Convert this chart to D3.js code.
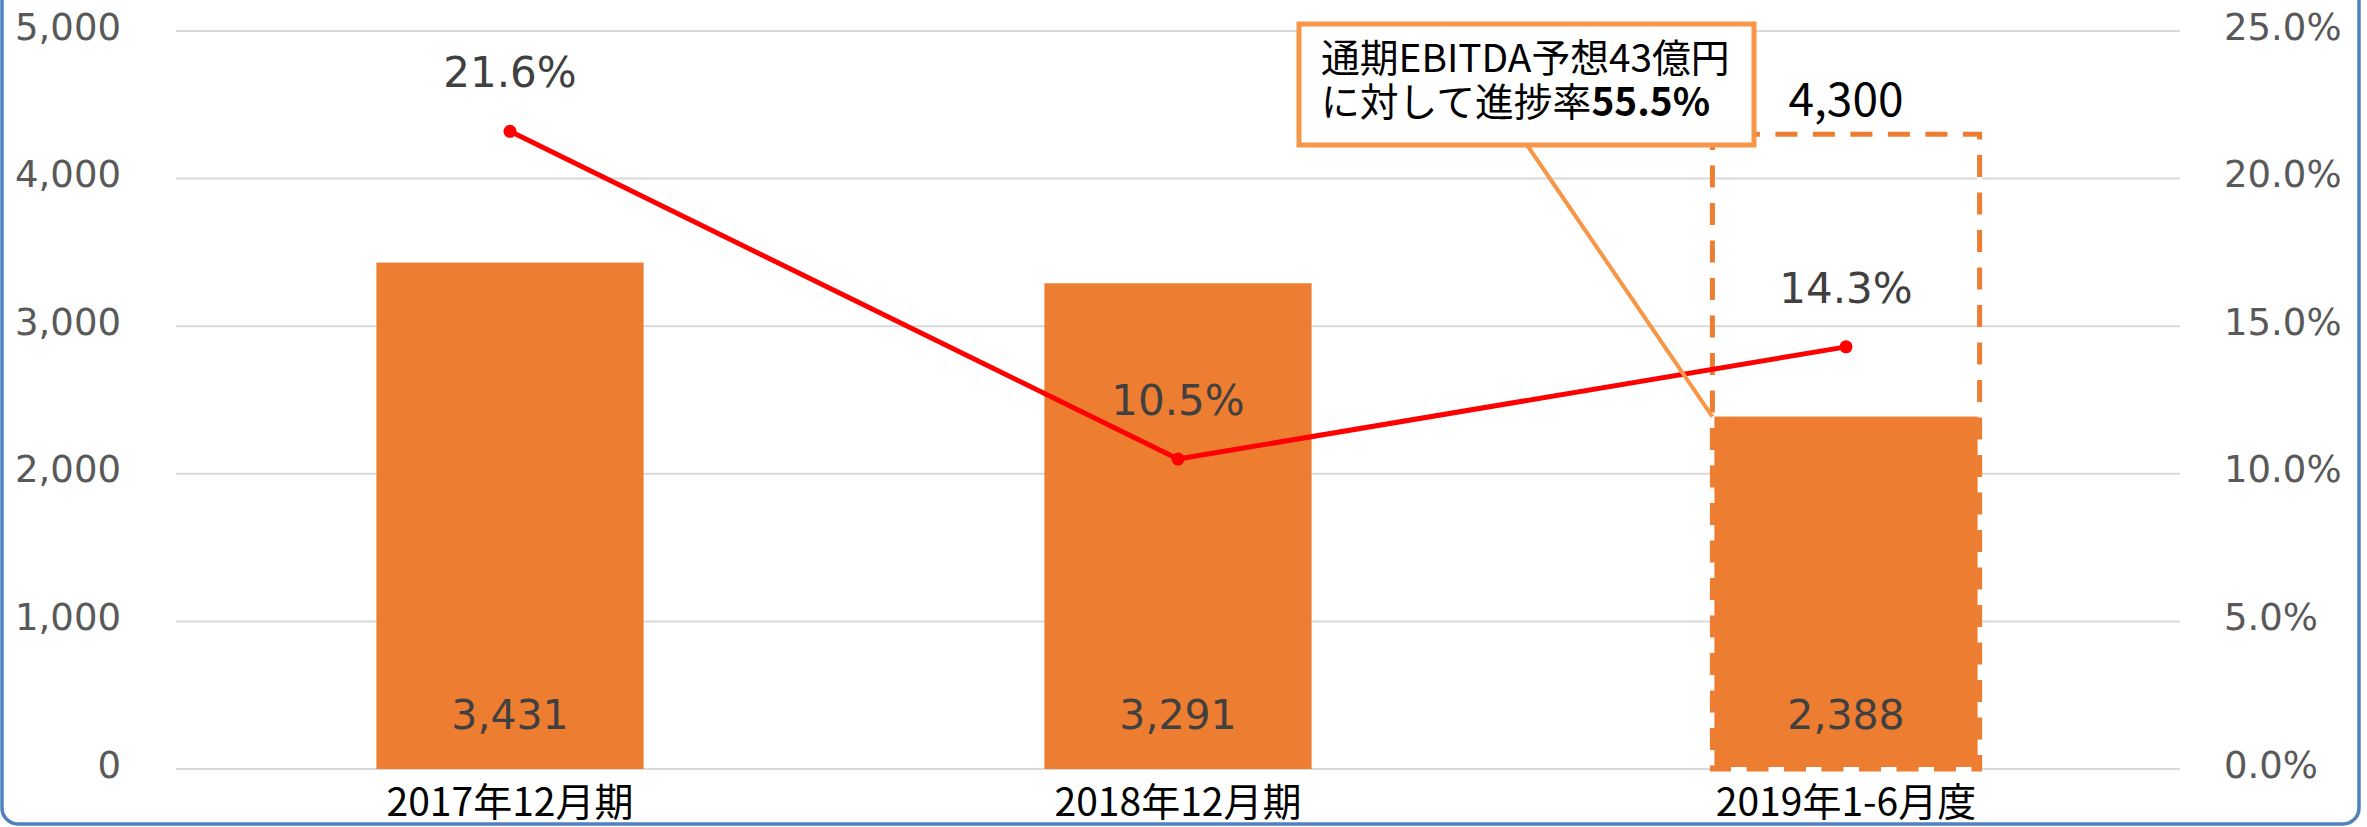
<!DOCTYPE html>
<html>
<head>
<meta charset="utf-8">
<script src="https://cdn.jsdelivr.net/npm/d3@7"></script>
<style>
  html, body { margin: 0; padding: 0; background: #ffffff; }
  svg { display: block; }
</style>
</head>
<body>
<svg id="chart" width="2367" height="827"></svg>
<script>
// ---------- data ----------
const categories = ["2017年12月期", "2018年12月期", "2019年1-6月度"];
const ebitda = [3431, 3291, 2388];            // bars
const margin = [0.216, 0.105, 0.143];         // EBITDA margin (line)
const forecastCategory = "2019年1-6月度";
const forecastValue = 4300;                   // full-year forecast (dashed box)
const leftTicks = [0, 1000, 2000, 3000, 4000, 5000];
const rightTicks = [0, 0.05, 0.10, 0.15, 0.20, 0.25];
const calloutLine1 = "通期EBITDA予想43億円";
const calloutLine2a = "に対して進捗率";
const calloutLine2b = "55.5%";

// ---------- layout ----------
const W = 2367, H = 827;
const plotL = 176, plotR = 2180, plotT = 31, plotB = 769;
const svg = d3.select("#chart");

const x = d3.scaleBand().domain(categories).range([plotL, plotR])
  .paddingInner(0.6).paddingOuter(0.3);
const yL = d3.scaleLinear().domain([0, 5000]).range([plotB, plotT]);
const yR = d3.scaleLinear().domain([0, 0.25]).range([plotB, plotT]);

const numFont = "'DejaVu Sans', Verdana, sans-serif";
const jpFont = "'Noto Sans CJK JP', 'Noto Sans', sans-serif";

// ---------- gridlines ----------
svg.append("g").selectAll("line").data(leftTicks).join("line")
  .attr("x1", plotL).attr("x2", plotR)
  .attr("y1", d => yL(d)).attr("y2", d => yL(d))
  .attr("stroke", "#d9d9d9").attr("stroke-width", 2);

// ---------- axes ----------
const axL = svg.append("g").attr("transform", `translate(${plotL},0)`)
  .call(d3.axisLeft(yL).tickValues(leftTicks).tickFormat(d3.format(",")).tickSize(0).tickPadding(55));
const axR = svg.append("g").attr("transform", `translate(${plotR},0)`)
  .call(d3.axisRight(yR).tickValues(rightTicks).tickFormat(d3.format(".1%")).tickSize(0).tickPadding(44));
[axL, axR].forEach(ax => {
  ax.select(".domain").remove();
  ax.selectAll("text").attr("font-family", numFont).attr("font-size", 37)
    .attr("fill", "#595959").attr("dy", "0.22em");
});

// ---------- bars ----------
svg.append("g").selectAll("rect").data(categories).join("rect")
  .attr("x", d => x(d)).attr("width", x.bandwidth())
  .attr("y", (d, i) => yL(ebitda[i]))
  .attr("height", (d, i) => yL(0) - yL(ebitda[i]))
  .attr("fill", "#ed7d31");

// ---------- forecast dashed box ----------
const fg = svg.append("g");
fg.append("rect")
  .attr("x", x(forecastCategory)).attr("width", x.bandwidth())
  .attr("y", yL(forecastValue)).attr("height", yL(0) - yL(forecastValue))
  .attr("fill", "none").attr("stroke", "#ffffff").attr("stroke-width", 4);
fg.append("rect")
  .attr("x", x(forecastCategory)).attr("width", x.bandwidth())
  .attr("y", yL(forecastValue)).attr("height", yL(0) - yL(forecastValue))
  .attr("fill", "none").attr("stroke", "#ed7d31").attr("stroke-width", 5)
  .attr("stroke-dasharray", "22,15.5").attr("stroke-dashoffset", 12);

// ---------- line ----------
const cx = d => x(d) + x.bandwidth() / 2;
const lineGen = d3.line().x(d => cx(d)).y((d, i) => yR(margin[i]));
svg.append("path").datum(categories)
  .attr("d", lineGen)
  .attr("fill", "none").attr("stroke", "#ff0000").attr("stroke-width", 5)
  .attr("stroke-linejoin", "round");
svg.append("g").selectAll("circle").data(categories).join("circle")
  .attr("cx", d => cx(d)).attr("cy", (d, i) => yR(margin[i])).attr("r", 6.5)
  .attr("fill", "#ff0000");

// ---------- labels ----------
svg.append("g").selectAll("text").data(categories).join("text")
  .attr("x", d => cx(d)).attr("y", (d, i) => yR(margin[i]) - 44)
  .attr("text-anchor", "middle").attr("font-family", numFont).attr("font-size", 42)
  .attr("fill", "#404040").text((d, i) => d3.format(".1%")(margin[i]));

svg.append("g").selectAll("text").data(categories).join("text")
  .attr("x", d => cx(d)).attr("y", yL(0) - 40)
  .attr("text-anchor", "middle").attr("font-family", numFont).attr("font-size", 41)
  .attr("fill", "#404040").text((d, i) => d3.format(",")(ebitda[i]));

svg.append("g").selectAll("text").data(categories).join("text")
  .attr("x", d => cx(d)).attr("y", 816)
  .attr("text-anchor", "middle").attr("font-family", jpFont).attr("font-size", 39)
  .attr("fill", "#000000").text(d => d);

svg.append("text")
  .attr("x", cx(forecastCategory)).attr("y", yL(forecastValue) - 18)
  .attr("text-anchor", "middle").attr("font-family", jpFont).attr("font-size", 46)
  .attr("fill", "#000000").text(d3.format(",")(forecastValue));

// ---------- callout ----------
const boxX = 1299, boxY = 24, boxW = 455, boxH = 121;
svg.append("line")
  .attr("x1", 1527).attr("y1", boxY + boxH)
  .attr("x2", x(forecastCategory)).attr("y2", yL(ebitda[2]))
  .attr("stroke", "#f79646").attr("stroke-width", 4);
svg.append("rect")
  .attr("x", boxX).attr("y", boxY).attr("width", boxW).attr("height", boxH)
  .attr("fill", "#ffffff").attr("stroke", "#f79646").attr("stroke-width", 5);
const ct = svg.append("text").attr("x", 1321).attr("y", 72)
  .attr("font-family", jpFont).attr("font-size", 38.8).attr("fill", "#000000");
ct.append("tspan").attr("x", 1321).attr("y", 72).text(calloutLine1);
ct.append("tspan").attr("x", 1321).attr("y", 116).text(calloutLine2a);
ct.append("tspan").attr("font-weight", "bold").text(calloutLine2b);

// ---------- frame ----------
svg.append("rect")
  .attr("x", 2).attr("y", -40).attr("width", 2357).attr("height", 864)
  .attr("rx", 16).attr("ry", 16)
  .attr("fill", "none").attr("stroke", "#4f81bd").attr("stroke-width", 3.5);
</script>
</body>
</html>
